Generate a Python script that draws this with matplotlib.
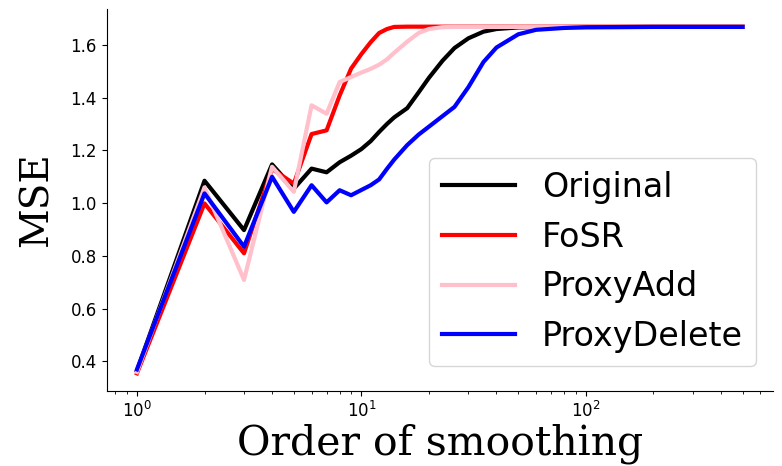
import matplotlib
matplotlib.use("Agg")
import matplotlib.pyplot as plt

orders = [1, 2, 3, 4, 5, 6, 7, 8, 9, 10, 11, 12, 13, 14, 16, 18, 20, 23, 26, 30, 35, 40, 50, 60, 80, 100, 200, 500]

original = [0.365, 1.085, 0.898, 1.147, 1.055, 1.131, 1.117, 1.155, 1.18, 1.205, 1.235, 1.27, 1.30, 1.325,
            1.36, 1.42, 1.475, 1.54, 1.588, 1.625, 1.65, 1.66, 1.666, 1.667, 1.667, 1.667, 1.668, 1.668]
fosr = [0.355, 0.999, 0.81, 1.13, 1.074, 1.262, 1.276, 1.408, 1.51, 1.565, 1.61, 1.645, 1.66, 1.668,
        1.669, 1.669, 1.669, 1.669, 1.669, 1.669, 1.669, 1.669, 1.669, 1.669, 1.669, 1.669, 1.669, 1.669]
proxy_add = [0.36, 1.06, 0.709, 1.138, 1.043, 1.371, 1.339, 1.459, 1.478, 1.495, 1.509, 1.525, 1.545, 1.57,
             1.612, 1.645, 1.66, 1.667, 1.668, 1.668, 1.668, 1.668, 1.668, 1.668, 1.668, 1.668, 1.668, 1.668]
proxy_delete = [0.37, 1.037, 0.835, 1.10, 0.967, 1.068, 1.003, 1.049, 1.03, 1.05, 1.068, 1.09, 1.13, 1.165,
                1.22, 1.26, 1.29, 1.33, 1.365, 1.44, 1.535, 1.59, 1.64, 1.657, 1.664, 1.667, 1.668, 1.668]

series = [("Original", original, "black"),
          ("FoSR", fosr, "red"),
          ("ProxyAdd", proxy_add, "pink"),
          ("ProxyDelete", proxy_delete, "blue")]

fig = plt.figure(figsize=(7.82, 4.66), dpi=100)
ax = fig.add_axes([0.1364, 0.1616, 0.852, 0.8184])
for name, vals, col in series:
    ax.plot(orders, vals, color=col, linewidth=3, label=name)
ax.set_xscale("log")
ax.spines["top"].set_visible(False)
ax.spines["right"].set_visible(False)
ax.tick_params(labelsize=12)
ax.set_yticks([0.4, 0.6, 0.8, 1.0, 1.2, 1.4, 1.6])
ax.set_xlabel("Order of smoothing", family="DejaVu Serif", fontsize=29.5, labelpad=2)
ax.set_ylabel("MSE", family="DejaVu Serif", fontsize=28, labelpad=10.5)
ax.legend(fontsize=24, loc="lower right", bbox_to_anchor=(1.0, 0.02), handlelength=2.2)
fig.savefig("out.png", dpi=100)
